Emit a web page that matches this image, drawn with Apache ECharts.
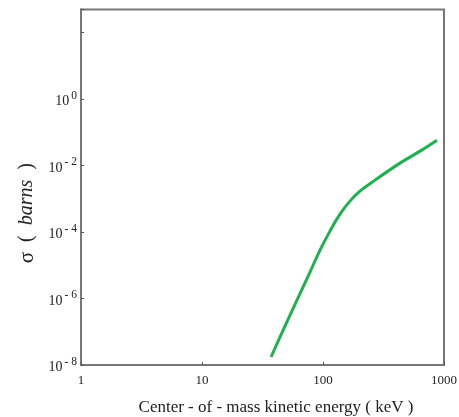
<!DOCTYPE html>
<html>
<head>
<meta charset="utf-8">
<script src="https://cdn.jsdelivr.net/npm/echarts@6/dist/echarts.min.js"></script>
<style>html,body{margin:0;padding:0;background:#fff}#c{width:459px;height:417px}</style>
</head>
<body>
<div id="c"></div>
<script>
const energyKeV = [37.2, 53.4, 78.1, 94.5, 114.2, 138.2, 167, 202, 269, 433, 634, 875];
const sigmaBarns = [1.74e-8, 3.19e-7, 6.27e-6, 2.88e-5, 1.07e-4, 3.48e-4, 8.55e-4, 1.71e-3, 3.66e-3, 0.0119, 0.0273, 0.0585];
const xTickLabels = ['1', '10', '100', '1000'];
const yTickExponents = [0, -2, -4, -6, -8];

const serif = '"Liberation Serif", "DejaVu Serif", serif';
const chart = echarts.init(document.getElementById('c'));
chart.setOption({
  animation: false,
  backgroundColor: '#fff',
  grid: { left: 81, right: 15, top: 9.5, bottom: 52, show: true, borderColor: '#777', borderWidth: 2, containLabel: false, outerBoundsMode: 'none' },
  xAxis: {
    type: 'log', logBase: 10, min: 1, max: 1000,
    name: 'Center - of - mass kinetic energy ( keV )',
    nameLocation: 'middle', nameGap: 34,
    nameTextStyle: { fontFamily: serif, fontSize: 17, color: '#222', padding: [0, 0, 0, 27] },
    axisLine: { lineStyle: { color: '#777', width: 2 } },
    axisTick: { inside: true, length: 3, lineStyle: { color: '#555' } },
    splitLine: { show: false },
    minorTick: { show: false },
    axisLabel: {
      fontFamily: serif, fontSize: 13, color: '#222', margin: 9,
      formatter: v => { const s = String(Math.round(v)); return xTickLabels.includes(s) ? s : ''; }
    }
  },
  yAxis: {
    type: 'log', logBase: 10, min: 1e-8, max: 500, interval: 2,
    name: '{s|σ}  {p|(}  {i|barns}  {p|)}',
    nameLocation: 'middle', nameGap: 41, nameRotate: 90,
    nameTextStyle: {
      fontFamily: serif, fontSize: 20, color: '#222', padding: [0, 52, 0, 0],
      rich: {
        s: { fontFamily: serif, fontSize: 21, color: '#222' },
        p: { fontFamily: serif, fontSize: 20, color: '#222' },
        i: { fontFamily: serif, fontSize: 20, fontStyle: 'italic', color: '#222' }
      }
    },
    axisLine: { lineStyle: { color: '#777', width: 2 } },
    axisTick: { inside: true, length: 3, lineStyle: { color: '#555' } },
    splitLine: { show: false },
    axisLabel: {
      margin: 4,
      formatter: v => {
        const e = Math.round(Math.log10(v));
        if (!yTickExponents.includes(e)) return '';
        return '{b|10}{e|' + (e === 0 ? '0' : '- ' + (-e)) + '}';
      },
      rich: {
        b: { fontFamily: serif, fontSize: 14, color: '#222', verticalAlign: 'bottom', lineHeight: 19, padding: [0, 2, 0, 0] },
        e: { fontFamily: serif, fontSize: 11.5, color: '#222', verticalAlign: 'top', lineHeight: 19 }
      }
    }
  },
  series: [{
    type: 'line',
    data: energyKeV.map((e, i) => [e, sigmaBarns[i]]),
    showSymbol: false,
    smooth: 0.4,
    lineStyle: { color: '#1fb04f', width: 3 },
    itemStyle: { color: '#1fb04f' }
  }]
});
</script>
</body>
</html>
